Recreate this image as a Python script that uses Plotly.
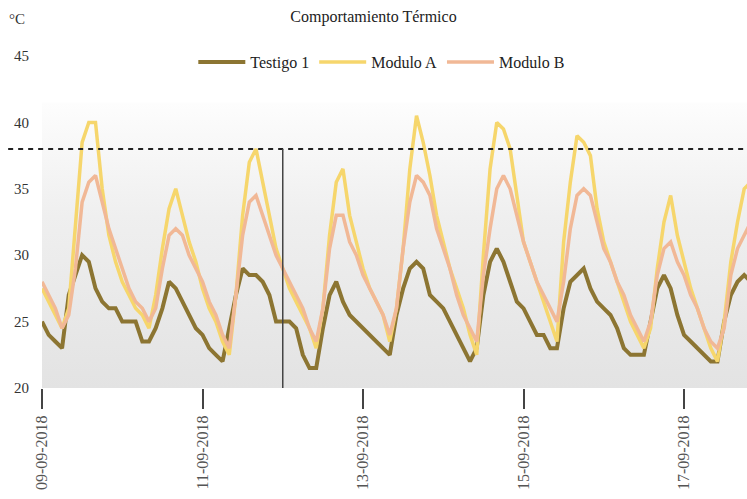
import pandas as pd
import plotly.graph_objects as go

# ---- data (2-hour readings, starting 09-09-2018 00:00) ----
start = "2018-09-09 00:00"
testigo_1 = [25.0, 24.0, 23.5, 23.0, 27.0, 28.5, 30.0, 29.5, 27.5, 26.5,
             26.0, 26.0, 25.0, 25.0, 25.0, 23.5, 23.5, 24.5, 26.0, 28.0,
             27.5, 26.5, 25.5, 24.5, 24.0, 23.0, 22.5, 22.0, 24.5, 27.0,
             29.0, 28.5, 28.5, 28.0, 27.0, 25.0, 25.0, 25.0, 24.5, 22.5,
             21.5, 21.5, 24.5, 27.0, 28.0, 26.5, 25.5, 25.0, 24.5, 24.0,
             23.5, 23.0, 22.5, 25.5, 27.5, 29.0, 29.5, 29.0, 27.0, 26.5,
             26.0, 25.0, 24.0, 23.0, 22.0, 23.0, 27.0, 29.5, 30.5, 29.5,
             28.0, 26.5, 26.0, 25.0, 24.0, 24.0, 23.0, 23.0, 26.0, 28.0,
             28.5, 29.0, 27.5, 26.5, 26.0, 25.5, 24.5, 23.0, 22.5, 22.5,
             22.5, 25.0, 27.5, 28.5, 27.5, 25.5, 24.0, 23.5, 23.0, 22.5,
             22.0, 22.0, 25.0, 27.0, 28.0, 28.5, 28.0]
modulo_a = [27.5, 26.5, 25.5, 24.5, 26.0, 32.0, 38.5, 40.0, 40.0, 35.0,
            31.5, 29.5, 28.0, 27.0, 26.0, 25.5, 24.5, 27.0, 30.5, 33.5,
            35.0, 33.0, 31.0, 29.5, 27.5, 26.0, 25.0, 23.5, 22.5, 27.0,
            33.0, 37.0, 38.0, 35.5, 33.0, 30.5, 29.0, 27.5, 26.5, 25.5,
            24.5, 23.0, 26.0, 31.5, 35.5, 36.5, 33.0, 31.0, 29.0, 27.5,
            26.5, 25.5, 23.5, 26.0, 30.5, 36.5, 40.5, 38.5, 36.0, 33.0,
            31.0, 29.0, 27.5, 26.0, 24.0, 22.5, 30.0, 36.5, 40.0, 39.5,
            38.0, 34.5, 31.0, 29.5, 28.0, 26.5, 25.0, 23.5, 31.0, 35.5,
            39.0, 38.5, 37.5, 33.5, 31.0, 29.5, 28.0, 26.5, 25.0, 24.0,
            23.0, 24.5, 29.0, 32.5, 34.5, 31.5, 29.5, 27.5, 26.0, 24.5,
            23.0, 22.0, 25.0, 29.5, 32.5, 35.0, 35.5]
modulo_b = [28.0, 27.0, 26.0, 24.5, 25.5, 29.0, 34.0, 35.5, 36.0, 34.0,
            32.0, 30.5, 29.0, 27.5, 26.5, 26.0, 25.0, 26.0, 29.0, 31.5,
            32.0, 31.5, 30.0, 29.0, 28.0, 26.5, 25.5, 24.0, 23.0, 27.0,
            31.5, 34.0, 34.5, 33.0, 31.5, 30.0, 29.0, 28.0, 27.0, 26.0,
            24.5, 23.5, 26.0, 30.5, 33.0, 33.0, 31.0, 30.0, 28.5, 27.5,
            26.5, 25.5, 24.0, 26.0, 30.5, 34.0, 36.0, 35.5, 34.5, 32.0,
            30.5, 29.0, 27.0, 25.5, 24.5, 23.5, 28.5, 32.0, 35.0, 36.0,
            35.0, 33.0, 31.0, 29.5, 28.0, 27.0, 26.0, 25.0, 28.0, 32.0,
            34.5, 35.0, 34.5, 32.5, 30.5, 29.5, 28.0, 27.0, 25.5, 24.5,
            23.5, 25.0, 28.5, 30.5, 31.0, 29.5, 28.5, 27.0, 26.0, 24.5,
            23.5, 23.0, 24.5, 28.5, 30.5, 31.5, 32.5]
series_names = ["Testigo 1", "Modulo A", "Modulo B"]
limit_value = 38
marker_date = "2018-09-12 00:00"
tick_dates = ["2018-09-09", "2018-09-11", "2018-09-13", "2018-09-15", "2018-09-17"]
tick_labels = ["09-09-2018", "11-09-2018", "13-09-2018", "15-09-2018", "17-09-2018"]
y_range = [20, 45]
x_end = "2018-09-17 18:50"
shade_top = 41.5

times = pd.date_range(start, periods=len(testigo_1), freq="2h")
colors = ["#8c7532", "#f6d66c", "#f1b896"]
widths = [4, 3.5, 3.5]
font_family = "Liberation Serif"

fig = go.Figure()

# shaded background band with vertical gradient
fig.add_trace(go.Scatter(
    x=[start, x_end, x_end, start, start],
    y=[y_range[0], y_range[0], shade_top, shade_top, y_range[0]],
    fill="toself", mode="lines", line=dict(width=0),
    fillgradient=dict(type="vertical",
                      colorscale=[[0, "#e3e3e3"], [0.6, "#efefef"], [1, "#fdfdfd"]]),
    showlegend=False, hoverinfo="skip"))

for name, vals, col, w in zip(series_names, [testigo_1, modulo_a, modulo_b], colors, widths):
    fig.add_trace(go.Scatter(x=times, y=vals, mode="lines", name=name,
                             line=dict(color=col, width=w)))

# reference lines
fig.add_shape(type="line", xref="paper", x0=-0.048, x1=1, yref="y", y0=limit_value, y1=limit_value,
              line=dict(color="#222", width=2, dash="5px,5px"))
fig.add_shape(type="line", xref="x", x0=marker_date, x1=marker_date, yref="y",
              y0=y_range[0], y1=limit_value, line=dict(color="#444", width=1.5))

fig.add_annotation(text="°C", xref="paper", yref="paper", x=-0.035, y=1.111,
                   xanchor="center", yanchor="middle",
                   showarrow=False, font=dict(family=font_family, size=15, color="#333"))

fig.update_layout(
    width=747, height=499,
    margin=dict(l=42, r=0, t=56, b=111, autoexpand=False),
    paper_bgcolor="white", plot_bgcolor="white",
    font=dict(family=font_family, size=15, color="#333"),
    title=dict(text="Comportamiento Térmico", x=0.5, xanchor="center",
               y=0.968, yanchor="middle", font=dict(family=font_family, size=16, color="#222")),
    legend=dict(orientation="h", x=0.482, xanchor="center", y=0.982, yanchor="middle",
                bgcolor="rgba(0,0,0,0)", font=dict(family=font_family, size=16, color="#222"),
                itemwidth=47, tracegroupgap=0),
    showlegend=True,
)
fig.update_xaxes(range=[start, x_end], tickvals=tick_dates, ticktext=tick_labels,
                 tickangle=-90, ticks="outside", ticklen=20, tickwidth=1.5, tickcolor="#444",
                 showgrid=False, zeroline=False, showline=False, automargin=False,
                 tickfont=dict(family=font_family, size=16, color="#555"))
fig.update_yaxes(range=y_range, dtick=5, showgrid=False, zeroline=False, showline=False,
                 ticks="", ticklabelstandoff=12, automargin=False,
                 tickfont=dict(family=font_family, size=15, color="#333"))

fig.write_html("out.html", config={"displayModeBar": False},
               post_script="document.body.style.margin='0px';")
